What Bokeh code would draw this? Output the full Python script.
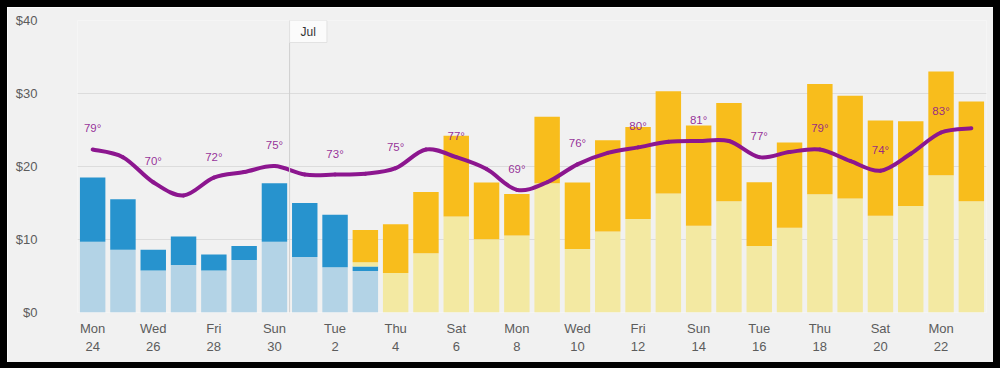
from bokeh.plotting import figure
from bokeh.models import ColumnDataSource, Range1d, FixedTicker, Span, Label
from bokeh.core.properties import value
from bokeh.embed import file_html
from bokeh.resources import INLINE

# ---- data ----
day_names = ["Mon", "Tue", "Wed", "Thu", "Fri", "Sat", "Sun"]
day_numbers = [24, 25, 26, 27, 28, 29, 30, 1, 2, 3, 4, 5, 6, 7, 8, 9, 10, 11, 12,
               13, 14, 15, 16, 17, 18, 19, 20, 21, 22, 23]

# past (blue) segments
past_base = [9.7, 8.6, 5.75, 6.5, 5.75, 7.2, 9.7, 7.6, 6.2, 5.7] + [0] * 20
past_extra = [8.8, 6.9, 2.85, 3.9, 2.2, 1.9, 8.0, 7.4, 7.2, 0.6] + [0] * 20
# forecast (yellow) segments
fc_base = [0] * 9 + [0.6, 5.4, 8.1, 13.15, 10.05, 10.55, 17.7, 8.7, 11.1, 12.8, 16.3,
                     11.9, 15.25, 9.1, 11.6, 16.2, 15.6, 13.25, 14.6, 18.8, 15.25]
fc_extra = [0] * 9 + [4.4, 6.7, 8.4, 11.05, 7.75, 5.7, 9.1, 9.1, 12.5, 12.6, 14.0,
                      13.7, 13.45, 8.75, 11.7, 15.1, 14.1, 13.05, 11.6, 14.2, 13.65]

temps = [79, 77.2, 71.3, 68.2, 72.4, 73.7, 75.1, 73.1, 73.1, 73.3, 74.6, 79, 77.2, 74.4,
         69.5, 71.3, 75.5, 78.2, 79.5, 80.8, 81, 81, 77.2, 78.4, 79, 76.3, 74, 78, 83, 84]
temp_labels = ["79°", "70°", "72°", "75°", "73°", "75°", "77°", "69°", "76°", "80°",
               "81°", "77°", "79°", "74°", "83°"]

y_ticks = [0, 10, 20, 30, 40]
y_tick_labels = ["$0", "$10", "$20", "$30", "$40"]
month_label = "Jul"
month_start = 6.5

n = len(day_numbers)
xs = list(range(n))

COL_PAST_BASE = "#b3d3e6"
COL_PAST_EXTRA = "#2793ce"
COL_FC_BASE = "#f3e9a2"
COL_FC_EXTRA = "#f8bd1c"
PURPLE = "#8c168f"
BG = "#f1f1f1"
FONT = "Liberation Sans"

p = figure(width=986, height=355, output_backend="svg", toolbar_location=None,
           x_range=Range1d(-0.5, n - 0.5), y_range=Range1d(0, 40),
           min_border_left=70, min_border_right=7, min_border_top=13, min_border_bottom=50,
           background_fill_color=BG, border_fill_color=BG,
           styles={"position": "relative", "left": "7px", "top": "7px",
                   "outline": "7px solid black"})
p.outline_line_color = None
p.extra_y_ranges = {"temp": Range1d(40.65, 109.35)}

# axes
p.xaxis.ticker = FixedTicker(ticks=xs[::2])
p.xaxis.major_label_overrides = {i: f"{day_names[i % 7]}\n{day_numbers[i]}" for i in xs[::2]}
p.yaxis.ticker = FixedTicker(ticks=y_ticks)
p.yaxis.major_label_overrides = {t: l for t, l in zip(y_ticks, y_tick_labels)}
for ax in (p.xaxis, p.yaxis):
    ax.axis_line_color = None
    ax.major_tick_line_color = None
    ax.minor_tick_line_color = None
    ax.major_tick_out = 0
    ax.major_tick_in = 0
    ax.minor_tick_out = 0
    ax.major_label_text_font = FONT
    ax.major_label_text_font_size = "13px"
    ax.major_label_text_color = "#5c5c5c"
p.xaxis.major_label_standoff = 8
p.yaxis.major_label_standoff = 40

p.xgrid.grid_line_color = None
p.ygrid.grid_line_color = "#dcdcdc"

# month marker
p.add_layout(Span(location=month_start, dimension="height", line_color="#cfcfcf", line_width=1))

# bars
src = ColumnDataSource(dict(x=xs, past_base=past_base, past_extra=past_extra,
                            fc_base=fc_base, fc_extra=fc_extra))
p.vbar_stack(["past_base", "past_extra", "fc_base", "fc_extra"], x="x", width=0.84,
             color=[COL_PAST_BASE, COL_PAST_EXTRA, COL_FC_BASE, COL_FC_EXTRA],
             line_color=None, source=src)

# smooth temperature line (Catmull-Rom as bezier segments)
P = list(zip(xs, temps))
x0, y0, x1, y1, cx0, cy0, cx1, cy1 = ([] for _ in range(8))
for i in range(n - 1):
    pm = P[i - 1] if i > 0 else P[i]
    pa = P[i]
    pb = P[i + 1]
    pn = P[i + 2] if i + 2 < n else P[i + 1]
    x0.append(pa[0]); y0.append(pa[1]); x1.append(pb[0]); y1.append(pb[1])
    cx0.append(pa[0] + (pb[0] - pm[0]) / 6); cy0.append(pa[1] + (pb[1] - pm[1]) / 6)
    cx1.append(pb[0] - (pn[0] - pa[0]) / 6); cy1.append(pb[1] - (pn[1] - pa[1]) / 6)
p.bezier(x0=x0, y0=y0, x1=x1, y1=y1, cx0=cx0, cy0=cy0, cx1=cx1, cy1=cy1,
         line_color=PURPLE, line_width=4, line_cap="round", y_range_name="temp")

# temperature labels on every other day
p.text(x=xs[::2], y=temps[::2], text=temp_labels, y_range_name="temp",
       y_offset=-21, text_align="center", text_baseline="middle",
       text_font=value(FONT), text_font_size="11.5px", text_color=PURPLE, text_alpha=0.9)

# month label box
p.add_layout(Label(x=month_start, y=40, text=month_label, anchor="top_left",
                   text_font=FONT, text_font_size="12px", text_color="#333333",
                   background_fill_color="#fbfbfb", border_line_color="#e2e2e2",
                   padding=dict(left=11, right=11, top=4, bottom=4)))

open("out.html", "w").write(file_html(p, INLINE))
